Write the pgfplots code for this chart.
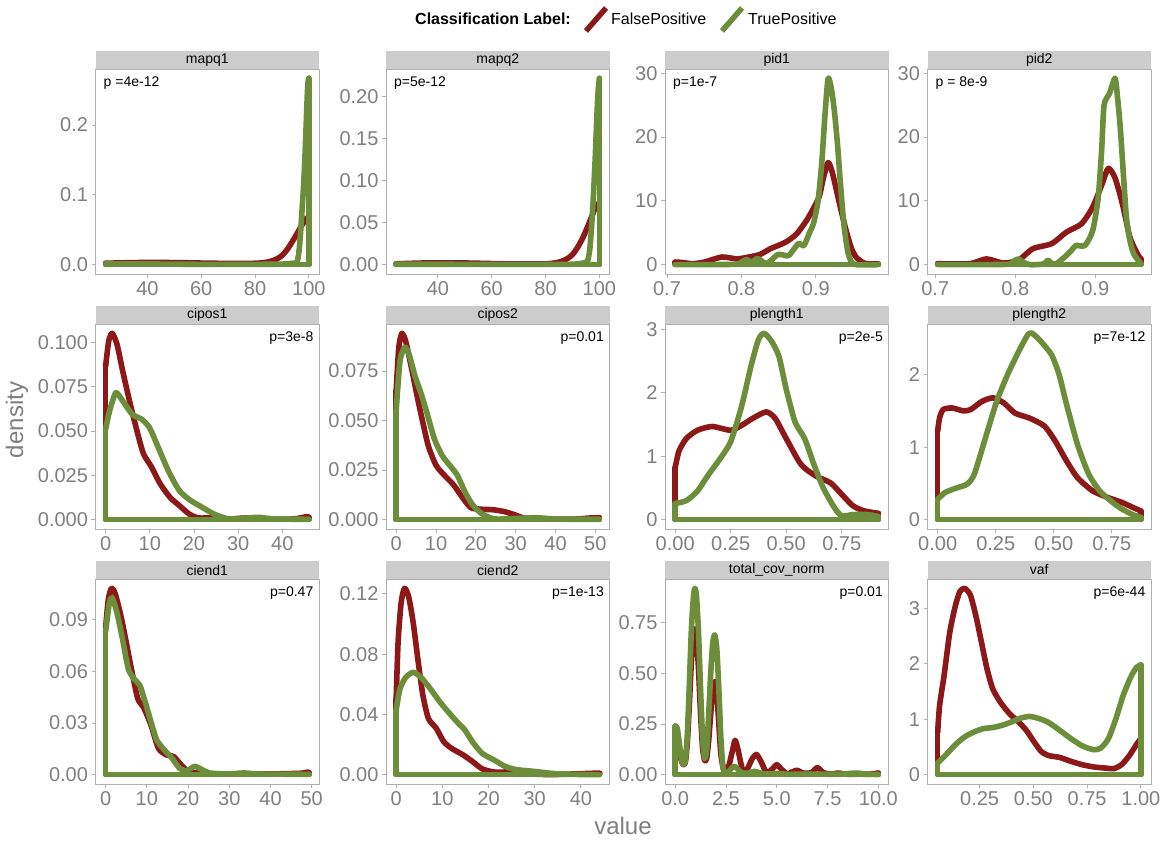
\documentclass[border=0pt]{standalone}
\usepackage{fontspec}
\setmainfont{Liberation Sans}
\usepackage{pgfplots}
\pgfplotsset{compat=1.18}
\definecolor{fpcol}{RGB}{140,24,24}
\definecolor{tpcol}{RGB}{108,142,58}
\definecolor{tickgray}{RGB}{127,127,127}
\definecolor{bordergray}{RGB}{175,175,175}
\definecolor{stripgray}{RGB}{204,204,204}
\pgfplotsset{
 facet/.style={
   scale only axis, width=223.5pt, height=205pt, anchor=south west,
   axis line style={bordergray, line width=0.8pt},
   tick pos=left, tick align=outside, major tick length=4pt,
   tick style={bordergray, line width=0.8pt},
   tick label style={font=\fontsize{20}{20}\selectfont, text=tickgray},
   scaled ticks=false, clip=false, no marks,
   /pgf/number format/assume math mode=true,
 },
 fr/.style={fpcol, line width=5.6pt, line join=round, line cap=round},
 fc/.style={fpcol, line width=5.6pt, line join=round, line cap=round, smooth, tension=0.4},
 tr/.style={tpcol, line width=5.6pt, line join=round, line cap=round},
 tc/.style={tpcol, line width=5.6pt, line join=round, line cap=round, smooth, tension=0.4},
}
\newcommand{\strip}[3]{\fill[stripgray] (#1pt,#2pt+205pt) rectangle (#1pt+223.5pt,#2pt+223pt);
 \node[font=\fontsize{14}{16}\selectfont, inner sep=0] at (#1pt+111.75pt,#2pt+214pt) {#3};}
\newcommand{\pleft}[3]{\node[anchor=west, font=\fontsize{14}{16}\selectfont, inner sep=0] at (#1pt+8pt,#2pt+191pt) {#3};}
\newcommand{\pright}[3]{\node[anchor=east, font=\fontsize{14}{16}\selectfont, inner sep=0] at (#1pt+218pt,#2pt+191pt) {#3};}
\begin{document}
\begin{tikzpicture}
\useasboundingbox (0,0) rectangle (1166pt,840pt);
% ---------------- mapq1
\begin{axis}[facet, at={(95.5pt,566pt)}, xmin=20.725, xmax=103.775, ymin=-0.01335, ymax=0.28035,
 xtick={40,60,80,100}, xticklabels={40,60,80,100}, ytick={0,0.1,0.2}, yticklabels={0.0,0.1,0.2}]
\addplot[fr] coordinates {(24.5,0.002)(24.5,0)(100,0)(100,0.068)};
\addplot[fc] coordinates {(24.5,0.002)(35,0.003)(50,0.003)(65,0.002)(80,0.002)(85,0.004)(88,0.008)(90,0.013)(92,0.022)(94,0.034)(96,0.047)(97,0.054)(98,0.06)(99,0.066)(100,0.068)};
\addplot[tr] coordinates {(24.5,0.001)(24.5,0)(100,0)(100,0.267)};
\addplot[tc] coordinates {(24.5,0.001)(40,0.001)(60,0.0005)(80,0.0005)(90,0.0008)(94,0.002)(95.5,0.003)(96,0.01)(96.5,0.025)(97,0.05)(97.5,0.08)(98,0.11)(98.5,0.15)(99,0.2)(99.5,0.25)(99.8,0.265)(100,0.267)};
\end{axis}
% ---------------- mapq2
\begin{axis}[facet, at={(386pt,566pt)}, xmin=20.725, xmax=103.775, ymin=-0.0111, ymax=0.2331,
 xtick={40,60,80,100}, xticklabels={40,60,80,100}, ytick={0,0.05,0.1,0.15,0.2}, yticklabels={0.00,0.05,0.10,0.15,0.20}]
\addplot[fr] coordinates {(24.5,0.001)(24.5,0)(100,0)(100,0.074)};
\addplot[fc] coordinates {(24.5,0.001)(35,0.002)(50,0.002)(65,0.001)(80,0.001)(85,0.003)(88,0.007)(90,0.012)(92,0.021)(94,0.033)(96,0.048)(97,0.056)(98,0.064)(99,0.07)(100,0.074)};
\addplot[tr] coordinates {(24.5,0.0005)(24.5,0)(100,0)(100,0.222)};
\addplot[tc] coordinates {(24.5,0.0005)(40,0.0005)(60,0.0003)(80,0.0003)(90,0.0005)(94,0.002)(95.5,0.004)(96,0.009)(96.5,0.02)(97,0.04)(97.5,0.065)(98,0.095)(98.5,0.13)(99,0.17)(99.5,0.205)(100,0.222)};
\end{axis}
% ---------------- pid1
\begin{axis}[facet, at={(665pt,566pt)}, xmin=0.69735, xmax=0.99765, ymin=-1.46, ymax=30.66,
 xtick={0.7,0.8,0.9}, xticklabels={0.7,0.8,0.9}, ytick={0,10,20,30}, yticklabels={0,10,20,30}]
\addplot[fr] coordinates {(0.711,0.4)(0.711,0)(0.984,0)(0.984,0.1)};
\addplot[fc] coordinates {(0.711,0.4)(0.72,0.35)(0.734,0.15)(0.75,0.4)(0.774,1.2)(0.794,0.9)(0.81,1.2)(0.825,1.6)(0.839,2.5)(0.859,3.5)(0.874,4.8)(0.889,7.2)(0.904,10.5)(0.91,13.5)(0.9165,16.0)(0.922,14.5)(0.929,11.0)(0.935,8)(0.9415,5.0)(0.948,2.5)(0.954,1.2)(0.962,0.4)(0.969,0.15)(0.984,0.1)};
\addplot[tr] coordinates {(0.711,0)(0.984,0)};
\addplot[tc] coordinates {(0.711,0)(0.79,0.05)(0.8,0.4)(0.8065,0.8)(0.814,0.4)(0.8215,1.0)(0.828,0.5)(0.834,0.15)(0.841,0.8)(0.849,1.6)(0.857,1.5)(0.864,1.45)(0.8765,3.3)(0.884,3.0)(0.8915,5.0)(0.897,6.5)(0.903,10)(0.908,16)(0.912,23)(0.9165,29.2)(0.921,27.5)(0.925,24)(0.929,19)(0.9335,12)(0.938,6)(0.943,2)(0.948,0.4)(0.954,0)(0.984,0)};
\end{axis}
% ---------------- pid2
\begin{axis}[facet, at={(927.5pt,566pt)}, xmin=0.6903, xmax=0.9697, ymin=-1.46, ymax=30.66,
 xtick={0.7,0.8,0.9}, xticklabels={0.7,0.8,0.9}, ytick={0,10,20,30}, yticklabels={0,10,20,30}]
\addplot[fr] coordinates {(0.703,0.15)(0.703,0)(0.957,0)(0.957,0.9)};
\addplot[fc] coordinates {(0.703,0.15)(0.743,0.15)(0.764,0.9)(0.785,0.25)(0.804,0.7)(0.822,2.5)(0.8456,3.3)(0.864,5.1)(0.8828,6.4)(0.8967,9.0)(0.9084,12.6)(0.9163,15.1)(0.9247,13.6)(0.934,9.5)(0.9433,4.3)(0.9526,1.7)(0.957,0.9)};
\addplot[tr] coordinates {(0.703,0)(0.957,0)(0.957,0.15)};
\addplot[tc] coordinates {(0.703,0)(0.79,0.05)(0.797,0.5)(0.804,0.9)(0.81,0.4)(0.818,0)(0.835,0.1)(0.841,0.7)(0.846,0.1)(0.852,0.2)(0.857,0.7)(0.864,1.45)(0.87,2.2)(0.876,3.0)(0.887,3.0)(0.8967,5.3)(0.9037,10.5)(0.908,18)(0.911,25)(0.9177,26.8)(0.9247,29.2)(0.928,26)(0.9316,20.9)(0.9386,7.9)(0.943,4)(0.948,1.7)(0.957,0.15)};
\end{axis}
% ---------------- cipos1
\begin{axis}[facet, at={(95.5pt,311pt)}, xmin=-2.3, xmax=48.3, ymin=-0.00525, ymax=0.11025,
 xtick={0,10,20,30,40}, xticklabels={0,10,20,30,40}, ytick={0,0.025,0.05,0.075,0.1}, yticklabels={0.000,0.025,0.050,0.075,0.100}]
\addplot[fr] coordinates {(0,0.0865)(0,0)(46,0)(46,0.0013)};
\addplot[fc] coordinates {(0,0.0865)(0.69,0.1006)(1.46,0.105)(2.58,0.0987)(3.86,0.0837)(5.58,0.065)(7.3,0.048)(8.58,0.037)(10.3,0.030)(12.4,0.020)(14.6,0.0125)(16.7,0.0079)(18.9,0.0032)(21,0.001)(24.5,0.001)(27.9,0.0004)(32.2,0.001)(36.5,0.0004)(42.5,0.0004)(45.5,0.0017)(46,0.0013)};
\addplot[tr] coordinates {(0,0.051)(0,0)(46,0)(46,0.0002)};
\addplot[tc] coordinates {(0,0.051)(0.86,0.061)(2.3,0.0715)(3.86,0.0669)(6.0,0.0594)(8.15,0.0566)(9.9,0.052)(11.6,0.0425)(14.2,0.0275)(16.7,0.0163)(19.3,0.0107)(21.9,0.0069)(24.5,0.0032)(27.9,0.0004)(32.2,0.001)(34.8,0.0013)(38.2,0.0004)(46,0.0002)};
\end{axis}
% ---------------- cipos2
\begin{axis}[facet, at={(386pt,311pt)}, xmin=-2.55, xmax=53.55, ymin=-0.0047, ymax=0.0987,
 xtick={0,10,20,30,40,50}, xticklabels={0,10,20,30,40,50}, ytick={0,0.025,0.05,0.075}, yticklabels={0.000,0.025,0.050,0.075}]
\addplot[fr] coordinates {(0,0.065)(0,0)(51,0)(51,0.001)};
\addplot[fc] coordinates {(0,0.065)(0.67,0.087)(1.44,0.094)(2.4,0.090)(3.8,0.077)(5.3,0.062)(6.7,0.049)(8.1,0.037)(10,0.0275)(12,0.0226)(14.4,0.0176)(16.7,0.011)(18.7,0.0061)(21.1,0.0053)(24.4,0.005)(27.3,0.004)(29.7,0.0025)(32.1,0.0008)(35,0.0003)(45,0.0003)(48.3,0.0008)(51,0.001)};
\addplot[tr] coordinates {(0,0.055)(0,0)(51,0)(51,0.0002)};
\addplot[tc] coordinates {(0,0.055)(0.96,0.080)(2.2,0.087)(3.3,0.083)(4.8,0.072)(6.2,0.064)(7.7,0.054)(9.6,0.0407)(11.5,0.0325)(13.4,0.0275)(15.3,0.0226)(17.2,0.0143)(19.1,0.0077)(21.1,0.0036)(23,0.0015)(25.4,0.0003)(35,0.001)(40,0.0003)(51,0.0002)};
\end{axis}
% ---------------- plength1
\begin{axis}[facet, at={(665pt,311pt)}, xmin=-0.04575, xmax=0.96075, ymin=-0.147, ymax=3.087,
 xtick={0,0.25,0.5,0.75}, xticklabels={0.00,0.25,0.50,0.75}, ytick={0,1,2,3}, yticklabels={0,1,2,3}]
\addplot[fr] coordinates {(0,0.82)(0,0)(0.915,0)(0.915,0.10)};
\addplot[fc] coordinates {(0,0.82)(0.017,1.08)(0.05,1.28)(0.10,1.41)(0.167,1.47)(0.25,1.41)(0.30,1.49)(0.35,1.60)(0.41,1.70)(0.45,1.60)(0.50,1.28)(0.567,0.87)(0.633,0.69)(0.70,0.58)(0.75,0.40)(0.80,0.22)(0.85,0.14)(0.915,0.10)};
\addplot[tr] coordinates {(0,0.255)(0,0)(0.915,0)(0.915,0.05)};
\addplot[tc] coordinates {(0,0.255)(0.05,0.30)(0.10,0.45)(0.15,0.71)(0.20,0.95)(0.25,1.23)(0.30,1.80)(0.342,2.43)(0.375,2.84)(0.40,2.94)(0.433,2.82)(0.467,2.58)(0.50,2.06)(0.54,1.54)(0.583,1.28)(0.625,0.87)(0.667,0.50)(0.717,0.19)(0.75,0.06)(0.80,0.08)(0.867,0.08)(0.915,0.05)};
\end{axis}
% ---------------- plength2
\begin{axis}[facet, at={(927.5pt,311pt)}, xmin=-0.04375, xmax=0.91875, ymin=-0.1285, ymax=2.6985,
 xtick={0,0.25,0.5,0.75}, xticklabels={0.00,0.25,0.50,0.75}, ytick={0,1,2}, yticklabels={0,1,2}]
\addplot[fr] coordinates {(0,1.22)(0,0)(0.875,0)(0.875,0.12)};
\addplot[fc] coordinates {(0,1.22)(0.008,1.40)(0.024,1.52)(0.063,1.54)(0.111,1.50)(0.143,1.52)(0.19,1.63)(0.238,1.68)(0.285,1.61)(0.333,1.47)(0.396,1.40)(0.46,1.29)(0.507,1.08)(0.555,0.81)(0.602,0.58)(0.666,0.40)(0.729,0.31)(0.792,0.24)(0.84,0.17)(0.875,0.12)};
\addplot[tr] coordinates {(0,0.28)(0,0)(0.875,0)(0.875,0.03)};
\addplot[tc] coordinates {(0,0.28)(0.032,0.375)(0.079,0.435)(0.127,0.49)(0.158,0.63)(0.206,1.13)(0.254,1.63)(0.301,2.0)(0.349,2.32)(0.388,2.55)(0.407,2.57)(0.444,2.46)(0.491,2.27)(0.523,2.0)(0.555,1.59)(0.602,1.04)(0.65,0.63)(0.697,0.40)(0.745,0.26)(0.792,0.15)(0.84,0.07)(0.875,0.03)};
\end{axis}
% ---------------- ciend1
\begin{axis}[facet, at={(95.5pt,56pt)}, xmin=-2.465, xmax=51.765, ymin=-0.0054, ymax=0.1134,
 xtick={0,10,20,30,40,50}, xticklabels={0,10,20,30,40,50}, ytick={0,0.03,0.06,0.09}, yticklabels={0.00,0.03,0.06,0.09}]
\addplot[fr] coordinates {(0,0.0852)(0,0)(49.3,0)(49.3,0.0012)};
\addplot[fc] coordinates {(0,0.0852)(0.64,0.1015)(1.4,0.108)(2.3,0.105)(3.7,0.092)(5.0,0.0766)(6.4,0.0594)(7.8,0.044)(9.2,0.039)(11,0.0287)(12.8,0.0153)(14.7,0.0115)(16.5,0.0105)(18.3,0.0057)(20.2,0.0015)(22.5,0.001)(25.2,0.0004)(39,0.0004)(47.2,0.0008)(49,0.0015)(49.3,0.0012)};
\addplot[tr] coordinates {(0,0.083)(0,0)(49.3,0)(49.3,0.0002)};
\addplot[tc] coordinates {(0,0.083)(0.9,0.0996)(1.6,0.1025)(2.75,0.0938)(4.1,0.0785)(5.5,0.0613)(6.9,0.0555)(8.3,0.0517)(9.6,0.0421)(11,0.0306)(12.4,0.0201)(14.2,0.0144)(16.1,0.0096)(17.9,0.0038)(19.7,0.0023)(21.6,0.0048)(23.4,0.0029)(25.2,0.001)(29.8,0.0004)(33.5,0.001)(37.2,0.0004)(49.3,0.0002)};
\end{axis}
% ---------------- ciend2
\begin{axis}[facet, at={(386pt,56pt)}, xmin=-2.2, xmax=46.2, ymin=-0.006185, ymax=0.129885,
 xtick={0,10,20,30,40}, xticklabels={0,10,20,30,40}, ytick={0,0.04,0.08,0.12}, yticklabels={0.00,0.04,0.08,0.12}]
\addplot[fr] coordinates {(0,0.05)(0,0)(44,0)(44,0.0008)};
\addplot[fc] coordinates {(0,0.05)(0.41,0.0876)(1.07,0.1139)(1.8,0.1237)(2.7,0.1182)(3.7,0.1007)(4.7,0.0766)(5.8,0.0525)(7.0,0.0372)(8.7,0.0307)(10.3,0.0219)(12,0.0175)(14.5,0.0131)(16.5,0.0088)(18.6,0.0039)(21.1,0.0018)(23.6,0.0018)(25.6,0.0033)(27.7,0.0022)(30.2,0.0004)(34.3,0.0001)(43.4,0.001)(44,0.0008)};
\addplot[tr] coordinates {(0,0.043)(0,0)(44,0)};
\addplot[tc] coordinates {(0,0.043)(0.83,0.057)(2.07,0.0646)(3.7,0.0679)(5.4,0.0646)(7.4,0.057)(9.5,0.0482)(11.6,0.0405)(13.2,0.035)(14.9,0.0296)(16.5,0.0219)(18.6,0.0142)(21.1,0.0099)(23.6,0.0055)(26,0.0033)(28.5,0.0026)(31,0.0018)(34.3,0.0007)(38.4,0.0002)(44,0)};
\end{axis}
% ---------------- total_cov_norm
\begin{axis}[facet, at={(665pt,56pt)}, xmin=-0.5, xmax=10.5, ymin=-0.046, ymax=0.966,
 xtick={0,2.5,5,7.5,10}, xticklabels={0.0,2.5,5.0,7.5,10.0}, ytick={0,0.25,0.5,0.75}, yticklabels={0.00,0.25,0.50,0.75}]
\addplot[fr] coordinates {(0,0.2)(0,0)(10,0)(10,0.008)};
\addplot[fc] coordinates {(0,0.2)(0.1,0.19)(0.2,0.13)(0.3,0.07)(0.4,0.05)(0.5,0.06)(0.6,0.16)(0.7,0.35)(0.8,0.56)(0.9,0.69)(0.97,0.72)(1.05,0.68)(1.15,0.52)(1.25,0.3)(1.35,0.13)(1.45,0.07)(1.55,0.08)(1.65,0.17)(1.75,0.3)(1.85,0.42)(1.95,0.46)(2.05,0.4)(2.15,0.25)(2.25,0.1)(2.4,0.02)(2.6,0.03)(2.8,0.11)(2.95,0.17)(3.1,0.12)(3.3,0.03)(3.5,0.02)(3.8,0.08)(4.0,0.1)(4.2,0.07)(4.5,0.01)(4.8,0.03)(5,0.05)(5.2,0.03)(5.5,0.005)(5.8,0.015)(6,0.022)(6.3,0.008)(6.7,0.01)(7.0,0.035)(7.3,0.01)(7.7,0.003)(8,0.008)(8.5,0.002)(9,0.003)(9.5,0.002)(10,0.008)};
\addplot[tr] coordinates {(0,0.24)(0,0)(10,0)(10,0.001)};
\addplot[tc] coordinates {(0,0.24)(0.1,0.23)(0.2,0.16)(0.3,0.08)(0.4,0.05)(0.5,0.07)(0.6,0.2)(0.7,0.45)(0.8,0.72)(0.9,0.88)(0.97,0.92)(1.05,0.88)(1.15,0.7)(1.25,0.42)(1.35,0.18)(1.45,0.08)(1.55,0.12)(1.65,0.3)(1.75,0.5)(1.85,0.65)(1.95,0.69)(2.05,0.62)(2.15,0.42)(2.25,0.18)(2.35,0.04)(2.45,0.01)(2.6,0.01)(2.8,0.035)(2.95,0.04)(3.1,0.025)(3.3,0.008)(3.6,0.008)(3.9,0.016)(4.2,0.008)(4.5,0.003)(5,0.006)(5.5,0.002)(6,0.002)(7,0.003)(8,0.002)(8.9,0.008)(9.5,0.002)(10,0.001)};
\end{axis}
% ---------------- vaf
\begin{axis}[facet, at={(927.5pt,56pt)}, xmin=0.00775, xmax=1.04725, ymin=-0.168, ymax=3.528,
 xtick={0.25,0.5,0.75,1}, xticklabels={0.25,0.50,0.75,1.00}, ytick={0,1,2,3}, yticklabels={0,1,2,3}]
\addplot[fr] coordinates {(0.055,0.76)(0.055,0)(1,0)(1,0.65)};
\addplot[fc] coordinates {(0.055,0.76)(0.064,1.25)(0.085,1.79)(0.111,2.56)(0.137,3.04)(0.158,3.30)(0.18,3.36)(0.207,3.24)(0.233,2.86)(0.259,2.38)(0.285,1.90)(0.311,1.55)(0.346,1.31)(0.389,1.10)(0.432,0.95)(0.467,0.80)(0.502,0.60)(0.536,0.42)(0.571,0.345)(0.623,0.31)(0.675,0.24)(0.727,0.18)(0.78,0.14)(0.832,0.12)(0.875,0.11)(0.91,0.18)(0.944,0.33)(0.979,0.54)(1.0,0.65)};
\addplot[tr] coordinates {(0.055,0.21)(0.055,0)(1,0)(1,1.98)};
\addplot[tc] coordinates {(0.055,0.21)(0.094,0.36)(0.137,0.54)(0.18,0.68)(0.224,0.77)(0.267,0.83)(0.311,0.85)(0.354,0.89)(0.398,0.95)(0.441,1.02)(0.484,1.05)(0.528,1.01)(0.571,0.94)(0.623,0.80)(0.675,0.65)(0.727,0.52)(0.78,0.45)(0.814,0.48)(0.849,0.65)(0.884,1.01)(0.918,1.43)(0.953,1.76)(0.979,1.93)(1.0,1.98)};
\end{axis}
% ---------------- strips and annotations
\strip{95.5}{566}{mapq1}
\strip{386}{566}{mapq2}
\strip{665}{566}{pid1}
\strip{927.5}{566}{pid2}
\strip{95.5}{311}{cipos1}
\strip{386}{311}{cipos2}
\strip{665}{311}{plength1}
\strip{927.5}{311}{plength2}
\strip{95.5}{56}{ciend1}
\strip{386}{56}{ciend2}
\strip{665}{56}{total\_cov\_norm}
\strip{927.5}{56}{vaf}
\pleft{95.5}{566}{p =4e-12}
\pleft{386}{566}{p=5e-12}
\pleft{665}{566}{p=1e-7}
\pleft{927.5}{566}{p = 8e-9}
\pright{95.5}{311}{p=3e-8}
\pright{386}{311}{p=0.01}
\pright{665}{311}{p=2e-5}
\pright{927.5}{311}{p=7e-12}
\pright{95.5}{56}{p=0.47}
\pright{386}{56}{p=1e-13}
\pright{665}{56}{p=0.01}
\pright{927.5}{56}{p=6e-44}
% axis titles
\node[rotate=90, font=\fontsize{24}{28}\selectfont, text=tickgray, inner sep=0] at (17pt,420pt) {density};
\node[font=\fontsize{24}{28}\selectfont, text=tickgray, inner sep=0] at (623pt,14pt) {value};
% legend
\node[anchor=west, font=\fontsize{16}{18}\selectfont\bfseries, inner sep=0] at (415pt,821pt) {Classification Label:};
\draw[fpcol, line width=5.5pt] (586pt,809pt) -- (606pt,832pt);
\node[anchor=west, font=\fontsize{16}{18}\selectfont, inner sep=0] at (611pt,821pt) {FalsePositive};
\draw[tpcol, line width=5.5pt] (722pt,809pt) -- (742pt,832pt);
\node[anchor=west, font=\fontsize{16}{18}\selectfont, inner sep=0] at (748pt,821pt) {TruePositive};
\end{tikzpicture}
\end{document}
